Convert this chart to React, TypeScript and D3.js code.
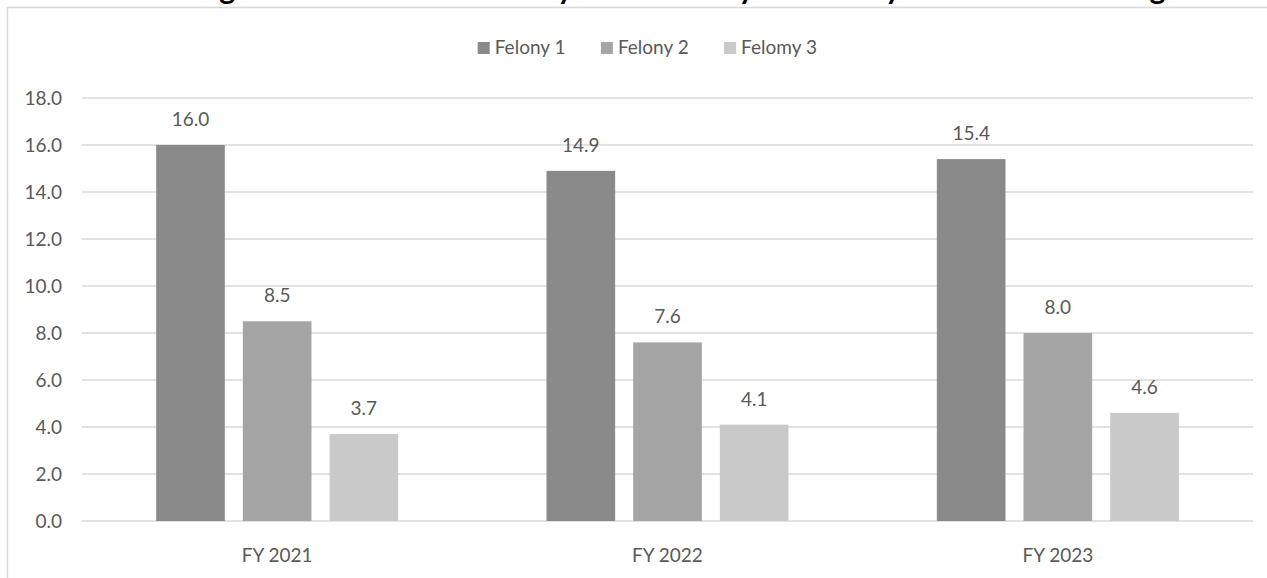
import React from "react";
import * as d3 from "d3";

// Chart data
const categories = ["FY 2021", "FY 2022", "FY 2023"];
const seriesNames = ["Felony 1", "Felony 2", "Felomy 3"];
const felony1 = [16.0, 14.9, 15.4];
const felony2 = [8.5, 7.6, 8.0];
const felony3 = [3.7, 4.1, 4.6];
const seriesColors = ["#898989", "#a5a5a5", "#c9c9c9"];
const yTicks = [0, 2, 4, 6, 8, 10, 12, 14, 16, 18];
const titleText =
  "Average Time Served in Custody in Months by the Felony Level at Sentencing";

const W = 1267;
const H = 578;
const FONT = "Lato, 'Open Sans', sans-serif";
const LABEL = "#595959";

export default function App() {
  const seriesValues = [felony1, felony2, felony3];

  const y = d3.scaleLinear().domain([0, 18]).range([521, 98]);
  const x0 = d3.scaleBand<string>().domain(categories).range([82, 1253]).padding(0);
  const groupWidth = x0.bandwidth() * 0.62;
  const x1 = d3
    .scaleBand<string>()
    .domain(seriesNames)
    .range([0, groupWidth])
    .paddingInner(0.208)
    .paddingOuter(0);
  const groupStart = (c: string) =>
    (x0(c) as number) + (x0.bandwidth() - groupWidth) / 2;

  const fmt = d3.format(".1f");

  // Legend layout: square, gap, label; items centered around legendCenter
  const legendCenter = 647;
  const sq = 12;
  const textGap = 5;
  const itemGap = 31;
  const approxWidth = (s: string) => s.length * 9.4;
  const itemWidths = seriesNames.map((s) => sq + textGap + approxWidth(s));
  const legendTotal =
    d3.sum(itemWidths) + itemGap * (seriesNames.length - 1);
  const legendStarts = itemWidths.map(
    (_, i) =>
      legendCenter - legendTotal / 2 + d3.sum(itemWidths.slice(0, i)) + itemGap * i
  );

  return (
    <svg
      width={W}
      height={H}
      style={{ position: "absolute", left: 0, top: 0, background: "#fff" }}
    >
      {/* chart frame */}
      <rect
        x={7.5}
        y={7.5}
        width={1320}
        height={620}
        fill="#fff"
        stroke="#d9d9d9"
        strokeWidth={1.5}
      />

      {/* title, set above the frame */}
      <text
        x={142}
        y={-1}
        fontFamily={FONT}
        fontWeight={700}
        fontSize={30}
        fill="#000"
      >
        {titleText}
      </text>

      {/* legend */}
      {seriesNames.map((s, i) => (
        <g key={s} transform={`translate(${legendStarts[i]},0)`}>
          <rect x={0} y={42} width={sq} height={sq} fill={seriesColors[i]} />
          <text
            x={sq + textGap}
            y={54}
            fontFamily={FONT}
            fontSize={19}
            fill={LABEL}
          >
            {s}
          </text>
        </g>
      ))}

      {/* gridlines and y tick labels */}
      {yTicks.map((t) => (
        <g key={t}>
          <line
            x1={82}
            x2={1253}
            y1={y(t)}
            y2={y(t)}
            stroke="#d9d9d9"
            strokeWidth={1.5}
          />
          <text
            x={62}
            y={y(t) + 6.5}
            textAnchor="end"
            fontFamily={FONT}
            fontSize={19}
            fill={LABEL}
          >
            {fmt(t)}
          </text>
        </g>
      ))}

      {/* bars and value labels */}
      {categories.map((c, ci) => (
        <g key={c}>
          {seriesNames.map((s, si) => {
            const v = seriesValues[si][ci];
            const bx = groupStart(c) + (x1(s) as number);
            return (
              <g key={s}>
                <rect
                  x={bx}
                  y={y(v)}
                  width={x1.bandwidth()}
                  height={y(0) - y(v)}
                  fill={seriesColors[si]}
                />
                <text
                  x={bx + x1.bandwidth() / 2}
                  y={y(v) - 19}
                  textAnchor="middle"
                  fontFamily={FONT}
                  fontSize={19}
                  fill={LABEL}
                >
                  {fmt(v)}
                </text>
              </g>
            );
          })}
          <text
            x={(x0(c) as number) + x0.bandwidth() / 2}
            y={562}
            textAnchor="middle"
            fontFamily={FONT}
            fontSize={19}
            fill={LABEL}
          >
            {c}
          </text>
        </g>
      ))}
    </svg>
  );
}
